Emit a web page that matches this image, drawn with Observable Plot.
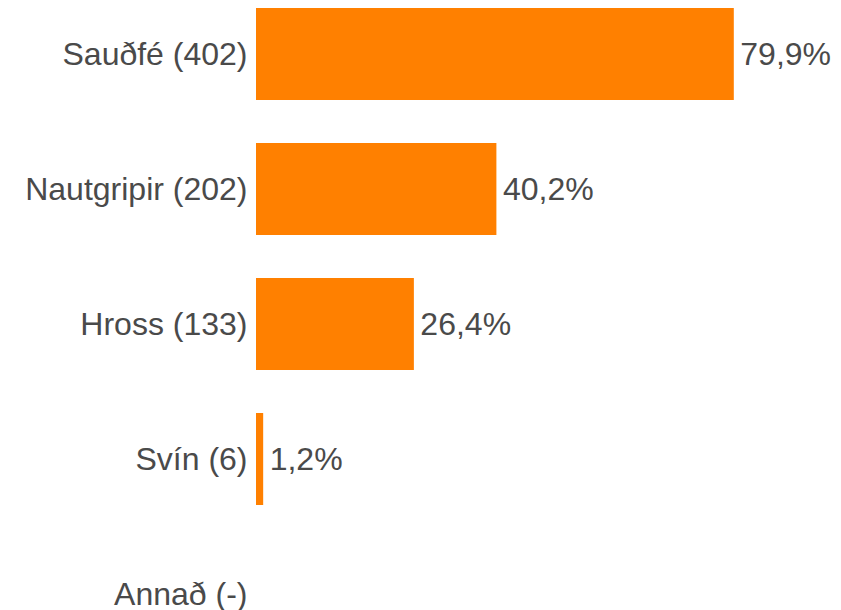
<!DOCTYPE html>
<html>
<head>
<meta charset="utf-8">
<script src="https://cdn.jsdelivr.net/npm/d3@7"></script>
<script src="https://cdn.jsdelivr.net/npm/@observablehq/plot@0.6"></script>
<style>
  html, body { margin: 0; padding: 0; background: #fff; }
  #chart svg { display: block; }
</style>
</head>
<body>
<div id="chart"></div>
<script>
const categories = ["Sauðfé (402)", "Nautgripir (202)", "Hross (133)", "Svín (6)", "Annað (-)"];
const values = [79.9, 40.2, 26.4, 1.2, null];
const valueLabels = ["79,9%", "40,2%", "26,4%", "1,2%", ""];

const data = categories.map((c, i) => ({cat: c, value: values[i], label: valueLabels[i]}));
const barData = data.filter(d => d.value != null);

const chart = Plot.plot({
  width: 841,
  height: 610,
  marginLeft: 256,
  marginRight: 0,
  marginTop: 0,
  marginBottom: 0,
  style: {fontFamily: "Arial, 'Liberation Sans', sans-serif", fontSize: "32px", color: "#4a4a4a", background: "#fff"},
  x: {domain: [0, 100], range: [256, 854], axis: null},
  y: {domain: categories, range: [-14.4, 662], paddingInner: 0.32, paddingOuter: 0.16, label: null},
  marks: [
    Plot.axisY({anchor: "left", tickSize: 0, tickPadding: 9, fontSize: 32, fill: "#4a4a4a", label: null}),
    Plot.barX(barData, {x: "value", y: "cat", fill: "#FF8000"}),
    Plot.text(barData, {x: "value", y: "cat", text: "label", textAnchor: "start", dx: 6, fontSize: 32, fill: "#4a4a4a"})
  ]
});
document.getElementById("chart").appendChild(chart);
</script>
</body>
</html>
